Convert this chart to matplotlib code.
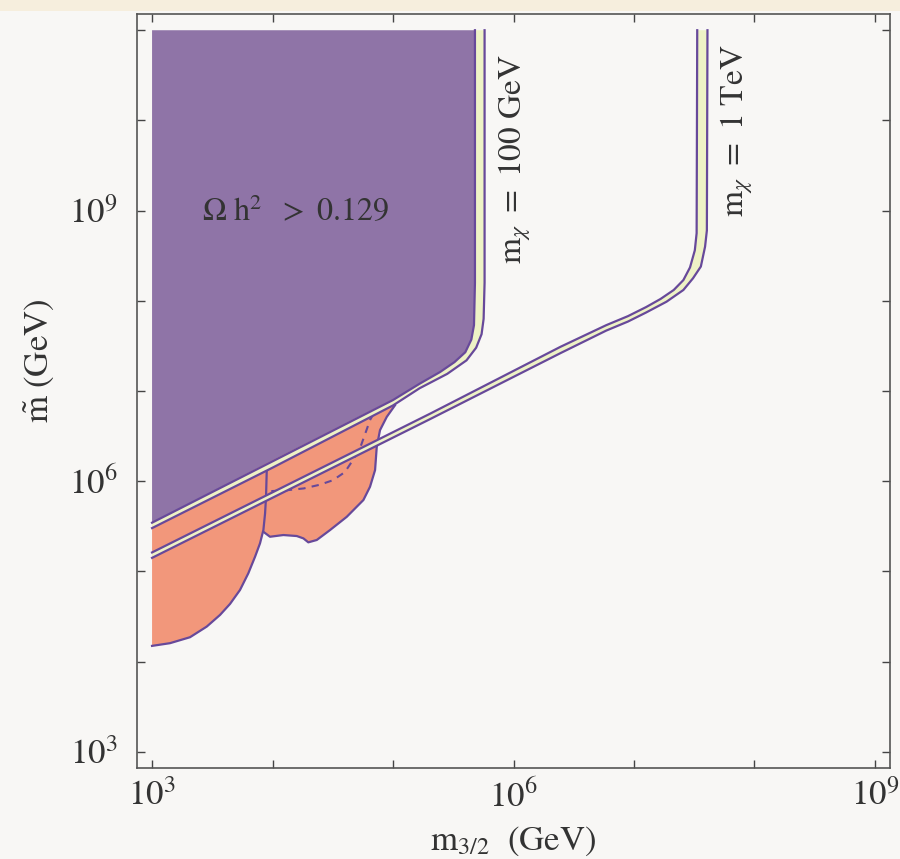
import numpy as np
import matplotlib
matplotlib.use("Agg")
from matplotlib import pyplot as plt
from matplotlib.patches import Polygon, Rectangle
from matplotlib.ticker import FixedLocator, FuncFormatter

plt.rcParams['mathtext.fontset'] = 'stix'
plt.rcParams['font.family'] = ['STIXGeneral', 'DejaVu Serif']

# Curves, as log10(m_3/2 / GeV) and log10(m~ / GeV)

# m_chi = 100 GeV band: lower edge (also edge of the Omega h^2 > 0.129 region) and upper edge
chi100_lo_x = [3.00, 4.00, 5.00, 5.22, 5.39, 5.51, 5.60, 5.65, 5.672, 5.68, 5.68]
chi100_lo_y = [5.54, 6.22, 6.90, 7.08, 7.21, 7.32, 7.43, 7.57, 7.73, 8.20, 11.00]
chi100_hi_x = [3.00, 4.00, 5.00, 5.22, 5.45, 5.61, 5.69, 5.735, 5.752, 5.76, 5.76]
chi100_hi_y = [5.48, 6.15, 6.84, 7.03, 7.19, 7.34, 7.48, 7.63, 7.80, 8.20, 11.00]

# m_chi = 1 TeV band
chi1000_lo_x = [3.00, 5.31, 6.39, 6.77, 6.95, 7.10, 7.22, 7.33, 7.41, 7.465, 7.505, 7.52, 7.525]
chi1000_lo_y = [5.21, 6.75, 7.49, 7.73, 7.83, 7.93, 8.02, 8.12, 8.23, 8.37, 8.56, 8.75, 11.00]
chi1000_hi_x = [3.00, 5.31, 6.39, 6.77, 6.95, 7.10, 7.27, 7.41, 7.49, 7.555, 7.59, 7.605, 7.61]
chi1000_hi_y = [5.15, 6.69, 7.42, 7.67, 7.77, 7.87, 7.99, 8.12, 8.25, 8.38, 8.60, 8.78, 11.00]

# excluded (orange) regions, lower boundaries
excl_a_x = [3.000, 3.149, 3.315, 3.454, 3.564, 3.647, 3.730, 3.799, 3.855, 3.896, 3.924, 3.938, 3.946, 3.952]
excl_a_y = [4.174, 4.204, 4.270, 4.388, 4.517, 4.639, 4.794, 4.979, 5.163, 5.311, 5.458, 5.643, 5.827, 6.123]
excl_b_x = [3.924, 3.979, 4.090, 4.201, 4.256, 4.297, 4.367, 4.477, 4.616, 4.754, 4.809, 4.851, 4.865, 4.892, 4.948, 5.017]
excl_b_y = [5.439, 5.384, 5.403, 5.392, 5.366, 5.322, 5.348, 5.458, 5.605, 5.791, 5.938, 6.123, 6.381, 6.566, 6.713, 6.843]

# dashed contour
dash_x = [3.99, 4.12, 4.26, 4.39, 4.50, 4.60, 4.66, 4.73, 4.77, 4.81, 4.835]
dash_y = [5.89, 5.90, 5.92, 5.96, 6.01, 6.10, 6.22, 6.38, 6.53, 6.68, 6.74]

x_ticks = [3, 4, 5, 6, 7, 8, 9]
y_ticks = [3, 4, 5, 6, 7, 8, 9, 10, 11]
labelled = [3, 6, 9]

purple = '#8f74a7'
orange = '#f2977b'
cream = '#eef2c6'
edge = '#67499a'
bg = '#f8f7f5'
ink = '#333333'


def pts(xs, ys):
    return np.column_stack([10.0 ** np.array(xs), 10.0 ** np.array(ys)])


fig = plt.figure(figsize=(9, 8.59), dpi=100, facecolor=bg)
fig.patches.append(Rectangle((0, 1 - 11 / 859), 1, 11 / 859, transform=fig.transFigure,
                             facecolor='#f6eedd', edgecolor='none'))
ax = fig.add_axes([137 / 900, 1 - 768 / 859, 753 / 900, 754 / 859], facecolor=bg)
ax.set_xscale('log')
ax.set_yscale('log')
ax.set_xlim(10 ** 2.875, 10 ** 9.125)
ax.set_ylim(10 ** 2.82, 10 ** 11.18)

# Omega h^2 > 0.129 region
lo100 = pts(chi100_lo_x, chi100_lo_y)
corner = pts([chi100_lo_x[0]], [chi100_lo_y[-1]])
ax.add_patch(Polygon(np.vstack([corner, lo100]), closed=True, facecolor=purple, edgecolor='none', zorder=1))

# excluded regions
a = pts(excl_a_x, excl_a_y)
top_a = pts([excl_a_x[-1], excl_a_x[0]], [6.20, chi100_lo_y[0]])
ax.add_patch(Polygon(np.vstack([a, top_a]), closed=True, facecolor=orange, edgecolor='none', zorder=2))
b = pts(excl_b_x, excl_b_y)
top_b = pts([5.06, excl_a_x[-1], excl_a_x[-2], excl_a_x[-3]], [6.95, 6.20, excl_a_y[-2], excl_a_y[-3]])
ax.add_patch(Polygon(np.vstack([b, top_b]), closed=True, facecolor=orange, edgecolor='none', zorder=2))
ax.plot(a[:, 0], a[:, 1], color=edge, lw=1.6, zorder=3)
ax.plot(b[:, 0], b[:, 1], color=edge, lw=1.6, zorder=3)
d = pts(dash_x, dash_y)
ax.plot(d[:, 0], d[:, 1], color=edge, lw=1.5, ls=(0, (3.5, 3)), zorder=3)

# m_chi bands
for lx, ly, hx, hy in [(chi100_lo_x, chi100_lo_y, chi100_hi_x, chi100_hi_y),
                       (chi1000_lo_x, chi1000_lo_y, chi1000_hi_x, chi1000_hi_y)]:
    lo = pts(lx, ly)
    hi = pts(hx, hy)
    ax.add_patch(Polygon(np.vstack([lo, hi[::-1]]), closed=True, facecolor=cream, edgecolor='none', zorder=4))
    ax.plot(lo[:, 0], lo[:, 1], color=edge, lw=1.6, zorder=5)
    ax.plot(hi[:, 0], hi[:, 1], color=edge, lw=1.6, zorder=5)

ax.text(10 ** 4.195, 10 ** 8.98, r'$\Omega\ \mathrm{h}^{2}\ \ >\ 0.129$', fontsize=23, color=ink,
        ha='center', va='center', zorder=6)
ax.text(10 ** 6.012, 10 ** 9.57, r'$\mathrm{m}_{\chi}\ =\ 100\ \mathrm{GeV}$', fontsize=24, color=ink,
        rotation=90, ha='center', va='center', zorder=6)
ax.text(10 ** 7.855, 10 ** 9.89, r'$\mathrm{m}_{\chi}\ =\ 1\ \mathrm{TeV}$', fontsize=24, color=ink,
        rotation=90, ha='center', va='center', zorder=6)

fmt = FuncFormatter(lambda v, p: r'$10^{%d}$' % round(np.log10(v)) if round(np.log10(v)) in labelled else '')
ax.xaxis.set_major_locator(FixedLocator([10.0 ** t for t in x_ticks]))
ax.yaxis.set_major_locator(FixedLocator([10.0 ** t for t in y_ticks]))
ax.xaxis.set_major_formatter(fmt)
ax.yaxis.set_major_formatter(fmt)
ax.minorticks_off()
ax.tick_params(which='major', direction='in', length=6, width=1, colors='#444444',
               labelcolor=ink, labelsize=25, top=True, right=True)
ax.tick_params(axis='x', pad=9)
ax.tick_params(axis='y', pad=14)
for s in ax.spines.values():
    s.set_color('#555555')
    s.set_linewidth(1.2)

ax.set_xlabel(r'$\mathrm{m}_{3/2}\ \ \mathrm{(GeV)}$', fontsize=25, color=ink)
ax.set_ylabel(r'$\tilde{\mathrm{m}}\ \mathrm{(GeV)}$', fontsize=25, color=ink)
ax.xaxis.set_label_coords(0.499, -0.097)
ax.yaxis.set_label_coords(-0.13, 0.54)
ax.xaxis.label.set_va('center')
ax.yaxis.label.set_va('center')

fig.savefig('out.png', dpi=100, facecolor=bg)
